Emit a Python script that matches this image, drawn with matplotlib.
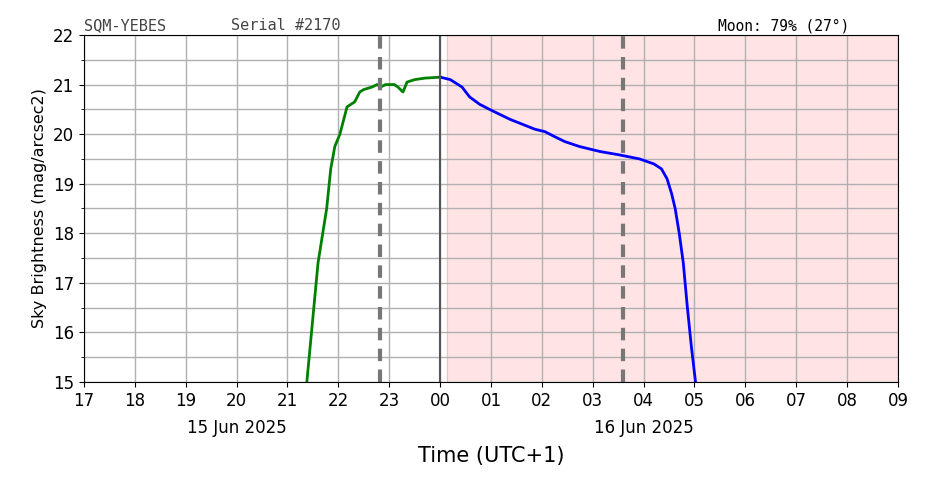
import numpy as np
import matplotlib.pyplot as plt

# hours since 15 Jun 2025 00:00 (UTC+1)
green_t = [21.38, 21.6, 21.77, 21.85, 21.93, 22.03, 22.17, 22.32, 22.42, 22.5, 22.66,
           22.76, 22.83, 22.93, 23.1, 23.17, 23.27, 23.35, 23.5, 23.7, 24.0]
green_v = [15.0, 17.4, 18.5, 19.3, 19.75, 20.0, 20.55, 20.65, 20.85, 20.9, 20.95,
           21.0, 20.95, 21.0, 21.0, 20.95, 20.85, 21.05, 21.1, 21.13, 21.15]
blue_t = [24.0, 24.2, 24.43, 24.58, 24.78, 24.97, 25.37, 25.86, 26.06, 26.25, 26.45,
          26.74, 27.14, 27.53, 27.92, 28.2, 28.35, 28.46, 28.55, 28.62, 28.7, 28.78,
          28.86, 28.94, 29.02]
blue_v = [21.15, 21.1, 20.95, 20.75, 20.6, 20.5, 20.3, 20.1, 20.05, 19.95, 19.85,
          19.75, 19.65, 19.58, 19.5, 19.4, 19.3, 19.1, 18.8, 18.5, 18.0, 17.4,
          16.5, 15.7, 15.0]
dashed_t = [22.82, 27.6]
midnight = 24.0
pink_start = 24.13

hours = np.arange(17, 34)
hour_labels = ["%02d" % (h % 24) for h in hours]

fig = plt.figure(figsize=(9.26, 4.87), dpi=100)
ax = fig.add_axes([84/926, 1-382/487, (898-84)/926, (382-35)/487])

ax.axvspan(pink_start, 33, color='#ffe3e5', zorder=0)
ax.axvline(pink_start, color='#ffbbbb', linewidth=0.8, zorder=0)
ax.set_xticks(hours)
ax.set_xticklabels(hour_labels, fontsize=12)
ax.set_yticks(range(15, 23))
ax.set_yticks(np.arange(15.5, 22, 1), minor=True)
ax.tick_params(axis='y', labelsize=12)
ax.grid(True, which='both', color='#b0b0b0', linewidth=1)
ax.set_axisbelow(True)
ax.set_xlim(17, 33)
ax.set_ylim(15, 22)

ax.plot(green_t, green_v, color='green', linewidth=2)
ax.plot(blue_t, blue_v, color='blue', linewidth=2)
for t in dashed_t:
    ax.axvline(t, color='#777777', linestyle='--', linewidth=3, dashes=(3, 2))
ax.axvline(midnight, color='#555555', linewidth=1.5)

ax.set_ylabel("Sky Brightness (mag/arcsec2)", fontsize=11.5)
ax.set_xlabel("Time (UTC+1)", fontsize=15, labelpad=26)
ax.text(20, 14.25, "15 Jun 2025", ha='center', va='top', fontsize=12)
ax.text(28, 14.25, "16 Jun 2025", ha='center', va='top', fontsize=12)

ax.text(0.0, 1.005, "SQM-YEBES", transform=ax.transAxes, family='DejaVu Sans Mono',
        fontsize=11, color='#444444', va='bottom')
ax.text(0.18, 1.005, "Serial #2170", transform=ax.transAxes, family='DejaVu Sans Mono',
        fontsize=11, color='#444444', va='bottom')
ax.text(0.94, 1.005, "Moon: 79% (27°)", transform=ax.transAxes, family='DejaVu Sans Mono',
        fontsize=10.5, color='black', va='bottom', ha='right')

fig.savefig("out.png", dpi=100)
